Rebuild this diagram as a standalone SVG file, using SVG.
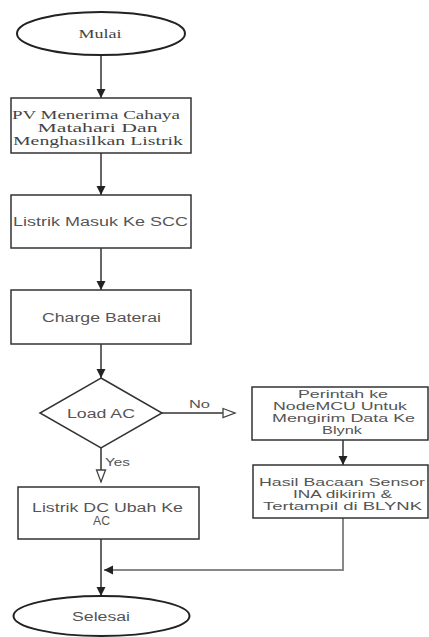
<svg xmlns="http://www.w3.org/2000/svg" width="429" height="637" viewBox="0 0 429 637">
<defs>
<style>
.shape{fill:#fff;stroke:#333;stroke-width:1.5}
.term{fill:#fff;stroke:#222;stroke-width:2}
.line{fill:none;stroke:#333;stroke-width:1.5}
.ret{fill:none;stroke:#888;stroke-width:2}
.serif{font-family:"Liberation Serif","Times New Roman",serif;font-size:12px;fill:#444;text-anchor:middle}
.sans{font-family:"Liberation Sans",Arial,sans-serif;font-size:12.5px;fill:#555;text-anchor:middle}
.small{font-family:"Liberation Sans",Arial,sans-serif;font-size:10.5px;fill:#555;text-anchor:middle}
.lbl{font-family:"Liberation Sans",Arial,sans-serif;font-size:11px;fill:#555;text-anchor:middle}
</style>
<marker id="fill" markerUnits="userSpaceOnUse" markerWidth="10" markerHeight="10" refX="9" refY="5" orient="auto">
<path d="M0,0.5 L9,5 L0,9.5 z" fill="#222"/>
</marker>
<marker id="open" markerUnits="userSpaceOnUse" markerWidth="15" markerHeight="12" refX="13" refY="6" orient="auto">
<path d="M1,1.5 L13,6 L1,10.5 z" fill="#fff" stroke="#444" stroke-width="1.3"/>
</marker>
</defs>
<rect width="429" height="637" fill="#fff"/>
<g id="connectors">
<line class="line" x1="101" y1="55" x2="101" y2="98" marker-end="url(#fill)"/>
<line class="line" x1="101" y1="153" x2="101" y2="195" marker-end="url(#fill)"/>
<line class="line" x1="101" y1="248" x2="101" y2="290" marker-end="url(#fill)"/>
<line class="line" x1="101" y1="344" x2="101" y2="378" marker-end="url(#fill)"/>
<line class="line" x1="162" y1="413" x2="235" y2="413" marker-end="url(#open)"/>
<line class="line" x1="101" y1="448" x2="101" y2="482" marker-end="url(#open)"/>
<line class="line" x1="343" y1="440" x2="343" y2="465" marker-end="url(#fill)"/>
<line class="line" x1="101" y1="539" x2="101" y2="596" marker-end="url(#fill)"/>
<polyline class="ret" points="343,518 343,570 104,570" marker-end="url(#fill)"/>
<text class="lbl" x="199.5" y="408" textLength="21" lengthAdjust="spacingAndGlyphs">No</text>
<text class="lbl" x="117.5" y="466" textLength="25" lengthAdjust="spacingAndGlyphs">Yes</text>
</g>
<g id="mulai">
<ellipse class="term" cx="101" cy="33.5" rx="84" ry="21.5"/>
<text class="serif" x="100" y="38" textLength="43" lengthAdjust="spacingAndGlyphs">Mulai</text>
</g>
<g id="pv">
<rect class="shape" x="11" y="98" width="180" height="55"/>
<text class="serif" x="96" y="119" textLength="168" lengthAdjust="spacingAndGlyphs">PV Menerima Cahaya</text>
<text class="serif" x="97.5" y="132" textLength="120" lengthAdjust="spacingAndGlyphs">Matahari Dan</text>
<text class="serif" x="98" y="145" textLength="170" lengthAdjust="spacingAndGlyphs">Menghasilkan Listrik</text>
</g>
<g id="scc">
<rect class="shape" x="11" y="195" width="180" height="53"/>
<text class="sans" x="100.5" y="225.5" textLength="175" lengthAdjust="spacingAndGlyphs">Listrik Masuk Ke SCC</text>
</g>
<g id="charge">
<rect class="shape" x="11" y="290" width="180" height="54"/>
<text class="sans" x="101.5" y="321.5" textLength="119" lengthAdjust="spacingAndGlyphs">Charge Baterai</text>
</g>
<g id="load">
<polygon class="shape" points="101,378 162,413 101,448 40,413"/>
<text class="sans" x="101" y="417.5" textLength="68" lengthAdjust="spacingAndGlyphs">Load AC</text>
</g>
<g id="perintah">
<rect class="shape" x="252" y="387" width="176" height="53"/>
<text class="small" x="343" y="398" textLength="90" lengthAdjust="spacingAndGlyphs">Perintah ke</text>
<text class="small" x="340" y="410" textLength="134" lengthAdjust="spacingAndGlyphs">NodeMCU Untuk</text>
<text class="small" x="343.5" y="422" textLength="143" lengthAdjust="spacingAndGlyphs">Mengirim Data Ke</text>
<text class="small" x="342" y="434" textLength="40" lengthAdjust="spacingAndGlyphs">Blynk</text>
</g>
<g id="hasil">
<rect class="shape" x="253" y="465" width="175" height="53"/>
<text class="small" x="342" y="485.5" textLength="166" lengthAdjust="spacingAndGlyphs">Hasil Bacaan Sensor</text>
<text class="small" x="342.5" y="497.5" textLength="99" lengthAdjust="spacingAndGlyphs">INA dikirim &amp;</text>
<text class="small" x="342.5" y="509.5" textLength="159" lengthAdjust="spacingAndGlyphs">Tertampil di BLYNK</text>
</g>
<g id="dcac">
<rect class="shape" x="18" y="487" width="181" height="52"/>
<text class="sans" x="107.5" y="512" textLength="151" lengthAdjust="spacingAndGlyphs">Listrik DC Ubah Ke</text>
<text class="sans" x="101.5" y="525" textLength="17" lengthAdjust="spacingAndGlyphs">AC</text>
</g>
<g id="selesai">
<ellipse class="term" cx="101.5" cy="616" rx="88" ry="20"/>
<text class="sans" x="101" y="621" textLength="58" lengthAdjust="spacingAndGlyphs">Selesai</text>
</g>
</svg>
